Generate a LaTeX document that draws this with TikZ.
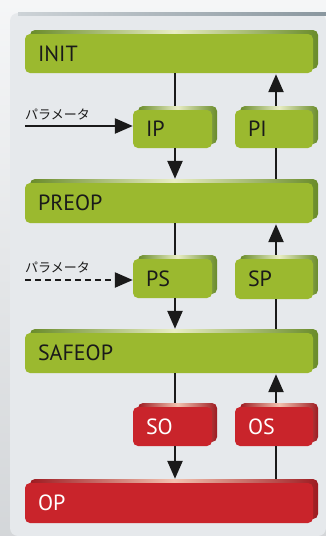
\documentclass[tikz,border=0pt]{standalone}
\usepackage{fontspec}
\setmainfont{PT Sans}
\newfontfamily\jpfont{Noto Sans CJK JP}
\usetikzlibrary{arrows.meta}
\definecolor{gface}{HTML}{9BB92F}
\definecolor{gdark}{HTML}{6A8C2A}
\definecolor{glight}{HTML}{E8EDC4}
\definecolor{rface}{HTML}{C9242B}
\definecolor{rdark}{HTML}{9E1B21}
\definecolor{rlight}{HTML}{F2C2B0}
\definecolor{ink}{HTML}{1A1A1A}
\definecolor{panel}{HTML}{E6E9EC}
\definecolor{barL}{HTML}{CDD3D7}
\definecolor{barR}{HTML}{8A979F}
\tikzset{
  stbox/.style={rectangle, rounded corners=5pt, inner xsep=13pt, inner ysep=0pt,
    align=left, font=\fontsize{22}{24}\selectfont, anchor=center},
  gbox/.style={stbox, fill=gface, text=ink},
  rbox/.style={stbox, fill=rface, text=white},
  conn/.style={draw=ink, line width=2.4pt},
  arr/.style={conn, -{Triangle[length=18pt,width=15pt]}},
  param/.style={font=\jpfont\fontsize{13}{15}\selectfont, text=ink, anchor=south west, inner sep=0pt}
}
% name, x1, y1, x2, y2, text, box style, dark, light
\newcommand\stbx[9]{%
  \shade[rounded corners=5pt, left color=#8, right color=#8, middle color=#9]
    (#2+5,#3-4) rectangle (#4+5,#5-4);
  \node[#7, minimum height=#5-#3 pt, text width=#4-#2-26 pt] (#1) at ({(#2+#4)/2},{(#3+#5)/2}) {#6};
}
\begin{document}
\begin{tikzpicture}[x=1pt,y=-1pt]
\useasboundingbox (0,0) rectangle (326,536);
% background
\shade[top color=white!60!panel, bottom color=panel!92!black] (0,0) rectangle (326,536);
\fill[panel, rounded corners=8pt] (10,536) -- (10,13) -- (326,13) -- (326,536) -- cycle;
\shade[left color=barL, right color=barR] (18,12) rectangle (326,15.5);
\coordinate (L) at (175,0);
\coordinate (R) at (276,0);
% boxes
\stbx{INIT}{25}{34}{313}{73}{INIT}{gbox}{gdark}{glight}
\stbx{IP}{133}{110}{212}{148}{IP}{gbox}{gdark}{glight}
\stbx{PI}{235}{110}{313}{148}{PI}{gbox}{gdark}{glight}
\stbx{PREOP}{25}{183}{313}{223}{PREOP}{gbox}{gdark}{glight}
\stbx{PS}{133}{259}{212}{298}{PS}{gbox}{gdark}{glight}
\stbx{SP}{235}{259}{313}{299}{SP}{gbox}{gdark}{glight}
\stbx{SAFEOP}{25}{333}{313}{373}{SAFEOP}{gbox}{gdark}{glight}
\stbx{SO}{133}{407}{212}{446}{SO}{rbox}{rdark}{rlight}
\stbx{OS}{235}{407}{313}{446}{OS}{rbox}{rdark}{rlight}
\stbx{OP}{25}{483}{313}{523}{OP}{rbox}{rdark}{rlight}
% left column (downwards)
\draw[conn] (INIT.south -| L) -- ([yshift=4pt]IP.north -| L);
\draw[arr] (IP.south -| L) -- ([yshift=4pt]PREOP.north -| L);
\draw[conn] (PREOP.south -| L) -- ([yshift=4pt]PS.north -| L);
\draw[arr] (PS.south -| L) -- ([yshift=4pt]SAFEOP.north -| L);
\draw[conn] (SAFEOP.south -| L) -- ([yshift=4pt]SO.north -| L);
\draw[arr] (SO.south -| L) -- ([yshift=4pt]OP.north -| L);
% right column (upwards)
\draw[arr] ([yshift=4pt]PI.north -| R) -- ([yshift=-1pt]INIT.south -| R);
\draw[conn] ([yshift=4pt]PREOP.north -| R) -- (PI.south -| R);
\draw[arr] ([yshift=4pt]SP.north -| R) -- ([yshift=-1pt]PREOP.south -| R);
\draw[conn] ([yshift=4pt]SAFEOP.north -| R) -- (SP.south -| R);
\draw[arr] ([yshift=4pt]OS.north -| R) -- ([yshift=-1pt]SAFEOP.south -| R);
\draw[conn] ([yshift=4pt]OP.north -| R) -- (OS.south -| R);
% parameter inputs
\coordinate (p1) at (25,126);
\coordinate (p2) at (25,280);
\node[param] (t1) at (25,120) {パラメータ};
\node[param] (t2) at (25,273) {パラメータ};
\draw[arr] (p1) -- (p1 -| IP.west);
\draw[arr, dash pattern=on 6pt off 4pt] (p2) -- (p2 -| PS.west);
\end{tikzpicture}
\end{document}
